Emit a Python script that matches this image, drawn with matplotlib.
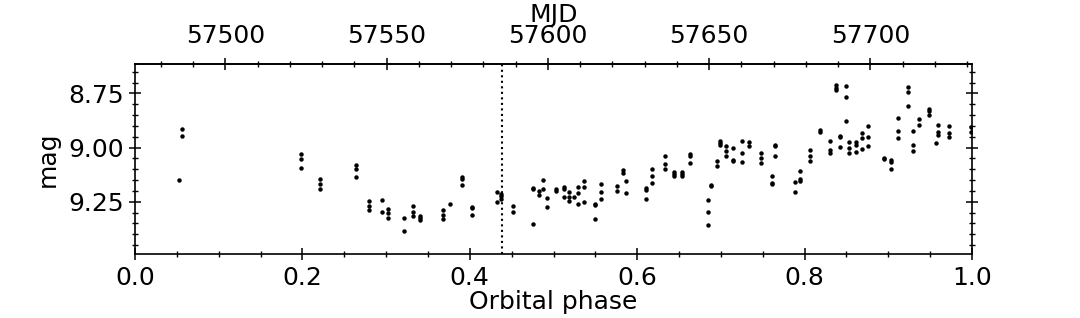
import matplotlib
matplotlib.use("Agg")
import matplotlib.pyplot as plt
from matplotlib.ticker import MultipleLocator, FormatStrFormatter

# light curve folded on the orbit
phase = [0.052, 0.056, 0.056,
         0.198, 0.198, 0.198, 0.221, 0.221, 0.221, 0.264, 0.264, 0.264,
         0.280, 0.280, 0.280, 0.295, 0.295, 0.302, 0.302, 0.302,
         0.321, 0.321, 0.332, 0.332, 0.332, 0.341, 0.341, 0.341,
         0.368, 0.368, 0.368, 0.376, 0.391, 0.391, 0.391, 0.403, 0.403, 0.403,
         0.433, 0.433, 0.437, 0.437, 0.437, 0.452, 0.452,
         0.476, 0.476, 0.476, 0.483, 0.483, 0.487, 0.487, 0.492, 0.492,
         0.503, 0.503, 0.513, 0.513, 0.513, 0.518, 0.518, 0.518, 0.525,
         0.529, 0.529, 0.529, 0.537, 0.537, 0.537, 0.549, 0.549, 0.549,
         0.557, 0.557, 0.557, 0.576, 0.576, 0.583, 0.583, 0.587, 0.587,
         0.611, 0.611, 0.611, 0.618, 0.618, 0.618, 0.633, 0.633, 0.633,
         0.644, 0.644, 0.644, 0.653, 0.653, 0.653, 0.663, 0.663, 0.663,
         0.684, 0.684, 0.684, 0.688, 0.688, 0.695, 0.695, 0.699, 0.699, 0.699,
         0.706, 0.706, 0.706, 0.714, 0.714, 0.714, 0.725, 0.725, 0.725,
         0.734, 0.734, 0.748, 0.748, 0.748, 0.761, 0.761, 0.761,
         0.765, 0.765, 0.765, 0.788, 0.788, 0.795, 0.795, 0.795,
         0.807, 0.807, 0.807, 0.818, 0.818, 0.830, 0.830, 0.830,
         0.838, 0.838, 0.838, 0.842, 0.842, 0.842, 0.849, 0.849, 0.849,
         0.853, 0.853, 0.853, 0.861, 0.861, 0.861, 0.868, 0.868, 0.868,
         0.876, 0.876, 0.876, 0.895, 0.895, 0.903, 0.903, 0.903,
         0.911, 0.911, 0.911, 0.923, 0.923, 0.923, 0.930, 0.930, 0.930,
         0.937, 0.937, 0.949, 0.949, 0.949, 0.957, 0.959, 0.959, 0.959,
         0.972, 0.972, 0.972, 0.999, 0.999]
mag = [9.151, 8.913, 8.944,
       9.031, 9.054, 9.093, 9.145, 9.168, 9.190, 9.079, 9.100, 9.137,
       9.247, 9.269, 9.290, 9.244, 9.295, 9.282, 9.301, 9.326,
       9.323, 9.386, 9.270, 9.299, 9.318, 9.318, 9.327, 9.336,
       9.290, 9.312, 9.329, 9.261, 9.134, 9.145, 9.171, 9.273, 9.279, 9.312,
       9.207, 9.253, 9.214, 9.225, 9.236, 9.269, 9.295,
       9.353, 9.187, 9.193, 9.202, 9.221, 9.150, 9.193, 9.233, 9.273,
       9.190, 9.199, 9.182, 9.190, 9.228, 9.207, 9.228, 9.245, 9.230,
       9.181, 9.208, 9.259, 9.154, 9.184, 9.253, 9.258, 9.264, 9.329,
       9.170, 9.207, 9.239, 9.179, 9.199, 9.105, 9.117, 9.153, 9.211,
       9.187, 9.194, 9.239, 9.099, 9.130, 9.162, 9.037, 9.074, 9.097,
       9.113, 9.122, 9.133, 9.113, 9.122, 9.133, 9.029, 9.039, 9.069,
       9.242, 9.296, 9.358, 9.171, 9.177, 9.060, 9.085, 8.968, 8.977, 8.986,
       8.994, 9.015, 9.040, 9.002, 9.056, 9.063, 8.971, 9.026, 9.065,
       8.972, 8.994, 9.026, 9.048, 9.071, 9.130, 9.162, 9.168,
       8.989, 8.994, 9.039, 9.157, 9.207, 9.110, 9.147, 9.153,
       9.009, 9.037, 9.062, 8.917, 8.929, 8.968, 9.009, 9.025,
       8.713, 8.724, 8.733, 8.944, 8.952, 8.997, 8.714, 8.767, 8.878,
       8.975, 9.002, 9.023, 8.972, 8.989, 9.022, 8.931, 8.957, 9.006,
       8.900, 8.949, 8.991, 9.046, 9.052, 9.059, 9.068, 9.097,
       8.862, 8.923, 8.957, 8.719, 8.744, 8.806, 8.924, 8.986, 9.015,
       8.869, 8.897, 8.823, 8.832, 8.850, 8.977, 8.927, 8.940, 8.895,
       8.898, 8.934, 8.952, 8.907, 8.929]

period = 259.5      # days
mjd0 = 57472.0      # MJD at phase 0
marker_phase = 0.438

fs = 18

fig = plt.figure(figsize=(10.8, 3.18), dpi=100)
ax = fig.add_axes([0.125, 0.2, 0.775, 0.6])

ax.plot(phase, mag, 'o', color='k', ms=3.2, mew=0)
ax.axvline(marker_phase, color='k', ls=':', lw=1.5)

ax.set_xlim(0, 1)
ax.set_ylim(9.493, 8.612)

ax.xaxis.set_major_locator(MultipleLocator(0.2))
ax.xaxis.set_minor_locator(MultipleLocator(0.05))
ax.xaxis.set_major_formatter(FormatStrFormatter('%.1f'))
ax.yaxis.set_major_locator(MultipleLocator(0.25))
ax.yaxis.set_minor_locator(MultipleLocator(0.05))
ax.yaxis.set_major_formatter(FormatStrFormatter('%.2f'))

ax.tick_params(axis='both', which='both', direction='inout', labelsize=fs)
ax.tick_params(axis='x', which='both', top=False, bottom=True)
ax.tick_params(axis='y', which='both', left=True, right=True)
ax.tick_params(which='major', length=9, width=1.1)
ax.tick_params(which='minor', length=5, width=1.0)
for sp in ax.spines.values():
    sp.set_linewidth(1.2)

ax.set_xlabel('Orbital phase', fontsize=fs, labelpad=0)
ax.set_ylabel('mag', fontsize=fs, labelpad=6)

top = ax.secondary_xaxis('top', functions=(lambda p: mjd0 + period * p,
                                           lambda m: (m - mjd0) / period))
top.xaxis.set_major_locator(MultipleLocator(50))
top.xaxis.set_minor_locator(MultipleLocator(10))
top.tick_params(which='both', direction='inout', labelsize=fs, pad=7)
top.tick_params(which='major', length=9, width=1.1)
top.tick_params(which='minor', length=5, width=1.0)
top.spines['top'].set_linewidth(1.2)
top.set_xlabel('MJD', fontsize=fs, labelpad=1)

fig.savefig('out.png', dpi=100)
